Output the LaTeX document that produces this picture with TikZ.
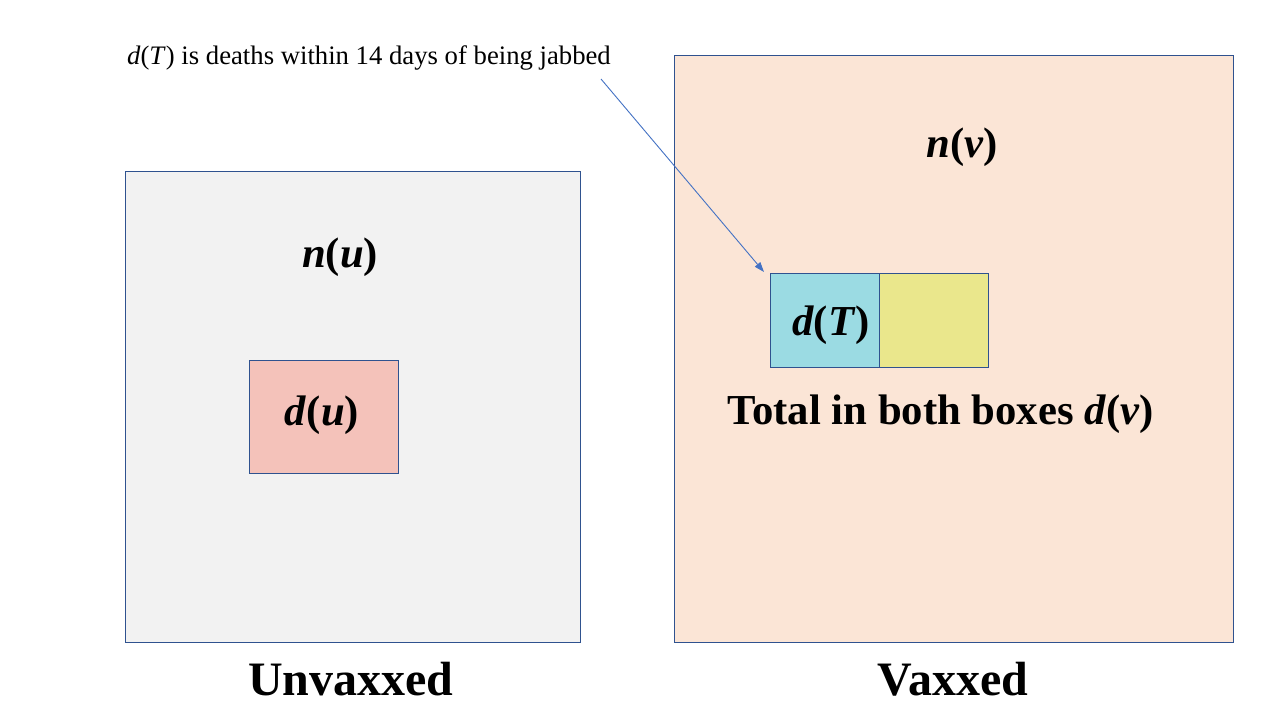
\documentclass[tikz,border=0pt]{standalone}
\usepackage{fontspec}
\setmainfont{Liberation Serif}
\usetikzlibrary{arrows.meta}
\definecolor{boxline}{HTML}{2F528F}
\definecolor{grayfill}{HTML}{F2F2F2}
\definecolor{peachfill}{HTML}{FBE5D6}
\definecolor{redfill}{HTML}{F4C2BA}
\definecolor{bluefill}{HTML}{9BDBE3}
\definecolor{yellowfill}{HTML}{EAE78C}
\definecolor{arrowblue}{HTML}{4472C4}
\newcommand{\bi}[1]{\textbf{\textit{#1}}}
\tikzset{
  box/.style={draw=boxline, line width=0.9pt, anchor=north west, inner sep=0pt, outer sep=0pt},
  bigtext/.style={font=\fontsize{42.7}{50}\selectfont\bfseries, inner sep=0pt},
  labeltext/.style={font=\fontsize{48}{56}\selectfont\bfseries, inner sep=0pt},
  smalltext/.style={font=\fontsize{26.7}{32}\selectfont, inner sep=0pt},
  arr/.style={draw=arrowblue, line width=0.9pt, -{Triangle[length=10pt,width=7pt]}}
}
\begin{document}
\begin{tikzpicture}[x=1pt,y=-1pt]
\useasboundingbox[fill=white] (0,0) rectangle (1280,720);
% big boxes
\node[box, fill=grayfill, minimum width=455pt, minimum height=471pt] (unv) at (125,171) {};
\node[box, fill=peachfill, minimum width=559pt, minimum height=587pt] (vax) at (674,55) {};
% inner boxes
\node[box, fill=redfill, minimum width=149pt, minimum height=113pt] (du) at (249,360) {};
\node[box, fill=bluefill, minimum width=109pt, minimum height=94pt] (dT) at (770,273) {};
\node[box, fill=yellowfill, minimum width=109pt, minimum height=94pt] (dy) at (879,273) {};
% texts
\node[bigtext] (nu) at (340,257) {\bi{n}(\bi{u})};
\node[bigtext] (nv) at (962,147) {\bi{n}(\bi{v})};
\node[bigtext] (dutext) at (322,415) {\bi{d}(\bi{u})};
\node[bigtext] (dTtext) at (831,325) {\bi{d}(\bi{T})};
\node[bigtext] (total) at (941,414) {Total in both boxes \bi{d}(\bi{v})};
\node[labeltext] (ulab) at (351,679) {Unvaxxed};
\node[labeltext] (vlab) at (953,679) {Vaxxed};
\node[smalltext] (note) at (369,58) {\textit{d}(\textit{T}) is deaths within 14 days of being jabbed};
% arrow
\coordinate (src) at (601,79);
\draw[arr] (src) -- ([xshift=-6pt,yshift=1pt]dT.north west);
\end{tikzpicture}
\end{document}
